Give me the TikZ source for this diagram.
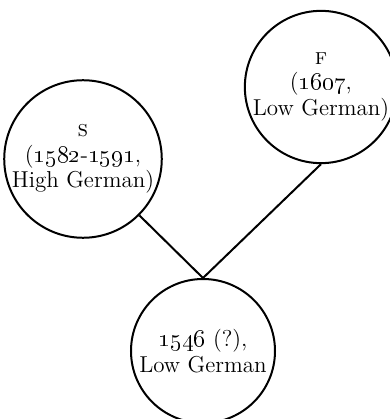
\documentclass[tikz,border=0pt]{standalone}
\newcommand{\yr}[1]{\oldstylenums{#1}}

\begin{document}
\begin{tikzpicture}[x=0.5pt,y=0.5pt,
  witness/.style={draw,circle,line width=1pt,minimum size=72pt,inner sep=0pt,
    align=center,font=\fontsize{11.5}{12.8}\selectfont}]
  \useasboundingbox (0,0) rectangle (390,419);
  \node[witness] (S) at (83,260) {\textsc{s}\\(\yr{1582}-\yr{1591},\\High German)};
  \node[witness] (F) at (321,332) {\textsc{f}\\(\yr{1607},\\Low German)};
  \node[witness] (B) at (203,68) {\yr{1546} (?),\\Low German};
  \draw[line width=1pt] (S.south east) -- (B.north);
  \draw[line width=1pt] (F.south) -- (B.north);
\end{tikzpicture}
\end{document}
